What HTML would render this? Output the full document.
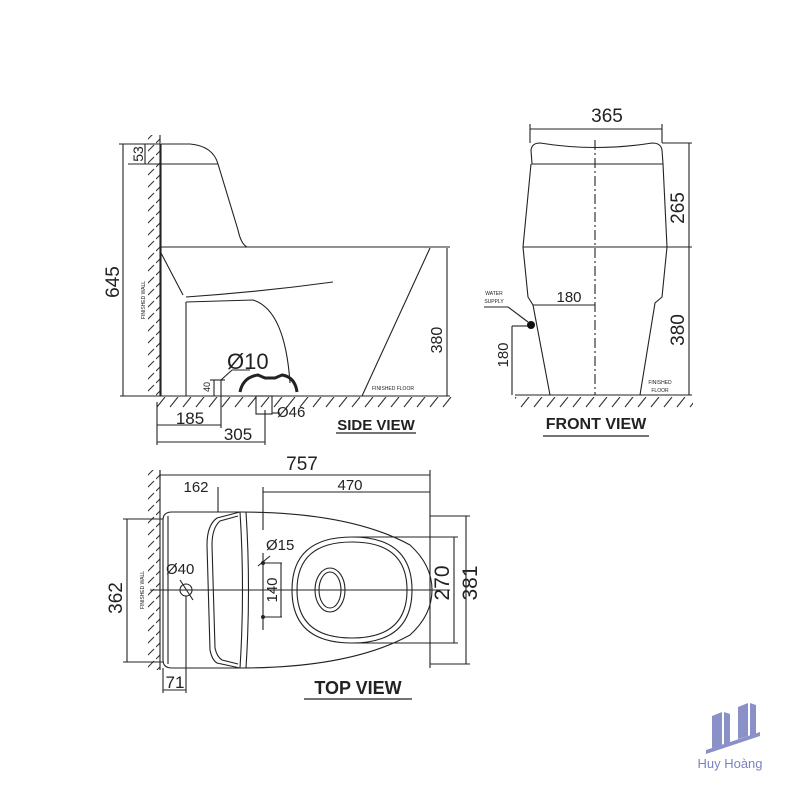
<!DOCTYPE html>
<html><head><meta charset="utf-8"><style>
html,body{margin:0;padding:0;background:#fff;}
svg{display:block;}
text{font-family:"Liberation Sans",Arial,sans-serif;fill:#222;}
</style></head><body>
<svg width="800" height="800" viewBox="0 0 800 800" xmlns="http://www.w3.org/2000/svg">
<defs>
<pattern id="hv" width="12" height="12" patternUnits="userSpaceOnUse"><line x1="0" y1="11" x2="10" y2="1" stroke="#333" stroke-width="1.1"/></pattern>
<pattern id="hh" width="13" height="12" patternUnits="userSpaceOnUse"><line x1="1" y1="11" x2="9" y2="1" stroke="#333" stroke-width="1.1"/></pattern>
</defs>
<rect width="800" height="800" fill="#fff"/>
<g fill="none" stroke="#222" stroke-width="1.1">
<!-- SIDE VIEW -->
<rect x="148" y="135" width="12" height="261" fill="url(#hv)" stroke="none"/>
<line x1="160" y1="135" x2="160" y2="396"/>
<rect x="155" y="397" width="300" height="11" fill="url(#hh)" stroke="none"/>
<line x1="120" y1="396" x2="450" y2="396"/>
<path d="M161 144 L190 144 Q213 146 218 164 L238 230 Q241 244 247 247"/>
<line x1="161" y1="164" x2="218" y2="164"/>
<line x1="161" y1="144" x2="161" y2="396"/>
<line x1="161" y1="247" x2="450" y2="247"/>
<path d="M161 253 L183 295"/>
<path d="M186 297 Q260 292 333 282"/>
<path d="M186 302 L186 396"/>
<path d="M186 302 L253 300 Q285 310 290 383"/>
<path d="M430 248 L362 396"/>
<path d="M240 392 Q243 377 258 375 L265 378 L275 378 L282 375 Q295 377 297 392" stroke-width="3"/>
<rect x="256" y="396" width="16" height="18"/>
<!-- dims side -->
<line x1="123" y1="144" x2="123" y2="396"/>
<line x1="119" y1="144" x2="160" y2="144"/>
<line x1="128" y1="164" x2="160" y2="164"/>
<line x1="145" y1="144" x2="145" y2="164"/>
<line x1="157" y1="402" x2="157" y2="445"/>
<line x1="157" y1="425" x2="221" y2="425"/>
<line x1="221" y1="380" x2="221" y2="428"/>
<line x1="157" y1="442" x2="265" y2="442"/>
<line x1="265" y1="410" x2="265" y2="445"/>
<line x1="210" y1="380" x2="225" y2="380"/>
<line x1="214" y1="380" x2="214" y2="396"/>
<line x1="221" y1="380" x2="232" y2="370"/><line x1="232" y1="370" x2="250" y2="370"/>
<line x1="272" y1="413" x2="280" y2="413"/>
<line x1="447" y1="248" x2="447" y2="396"/>
<!-- FRONT VIEW -->
<rect x="515" y="397" width="178" height="11" fill="url(#hh)" stroke="none"/>
<line x1="515" y1="395" x2="692" y2="395"/>
<path d="M532 164 L531 150 Q532 143 540 143 Q596 152 652 143 Q661 143 662 150 L663 164 Z"/>
<path d="M531 164 L523 247 L528 297 L533 305 L550 395"/>
<path d="M663 164 L667 247 L662 297 L655 303 L640 395"/>
<line x1="523" y1="247" x2="692" y2="247"/>
<line x1="595" y1="140" x2="595" y2="395" stroke-dasharray="10 3 2 3"/>
<line x1="530" y1="129" x2="662" y2="129"/>
<line x1="530" y1="124" x2="530" y2="143"/><line x1="662" y1="124" x2="662" y2="143"/>
<line x1="689" y1="143" x2="689" y2="395"/>
<line x1="662" y1="143" x2="692" y2="143"/>
<line x1="533" y1="305" x2="595" y2="305"/>
<line x1="512" y1="326" x2="528" y2="326"/>
<line x1="512" y1="326" x2="512" y2="395"/>
<line x1="484" y1="307" x2="508" y2="307"/><line x1="508" y1="307" x2="528" y2="322"/>
<!-- TOP VIEW -->
<rect x="148" y="470" width="12" height="200" fill="url(#hv)" stroke="none"/>
<line x1="160" y1="470" x2="160" y2="670"/>
<path d="M163 520 Q163 512 172 512 L240 512 Q350 512 410 545 Q432 565 432 590 Q432 615 410 635 Q350 668 240 668 L172 668 Q163 668 163 660 Z"/>
<line x1="168" y1="516" x2="168" y2="664"/>
<path d="M240 512 L217 518 Q207 525 207 545 L210 650 Q212 660 217 663 L240 668"/>
<path d="M238 516 L220 521 Q212 528 212 545 L215 648 Q217 657 222 660 L238 664"/>
<path d="M240 512 Q245 590 240 668"/><path d="M246 512 Q251 590 246 668"/>
<path d="M352 537 Q292 537 292 590 Q292 643 352 643 Q412 643 412 590 Q412 537 352 537 Z"/>
<path d="M352 542 Q297 542 297 590 Q297 638 352 638 Q407 638 407 590 Q407 542 352 542 Z"/>
<ellipse cx="330" cy="590" rx="15" ry="22"/>
<ellipse cx="330" cy="590" rx="11" ry="18"/>
<line x1="150" y1="590" x2="450" y2="590"/>
<circle cx="186" cy="590" r="6"/>
<line x1="180" y1="580" x2="193" y2="600"/>
<line x1="160" y1="475" x2="430" y2="475"/>
<line x1="160" y1="470" x2="160" y2="480"/><line x1="430" y1="470" x2="430" y2="668"/>
<line x1="263" y1="492" x2="430" y2="492"/>
<line x1="263" y1="487" x2="263" y2="530"/>
<line x1="218" y1="487" x2="218" y2="512"/>
<line x1="127" y1="519" x2="127" y2="662"/>
<line x1="123" y1="519" x2="163" y2="519"/><line x1="123" y1="662" x2="163" y2="662"/>
<line x1="352" y1="537" x2="458" y2="537"/><line x1="352" y1="643" x2="458" y2="643"/>
<line x1="454" y1="537" x2="454" y2="643"/>
<line x1="430" y1="516" x2="470" y2="516"/><line x1="430" y1="664" x2="470" y2="664"/>
<line x1="466" y1="516" x2="466" y2="664"/>
<line x1="262" y1="563" x2="282" y2="563"/><line x1="262" y1="617" x2="282" y2="617"/>
<line x1="281" y1="563" x2="281" y2="617"/>
<line x1="263" y1="553" x2="263" y2="630"/>
<line x1="258" y1="566" x2="270" y2="556"/>
<line x1="163" y1="668" x2="163" y2="693"/><line x1="186" y1="596" x2="186" y2="693"/>
<line x1="163" y1="690" x2="186" y2="690"/>
</g>
<circle cx="531" cy="325" r="4" fill="#111"/>
<circle cx="263" cy="563" r="2" fill="#222"/><circle cx="263" cy="617" r="2" fill="#222"/>
<!-- texts side -->
<text x="119" y="282" font-size="19" text-anchor="middle" transform="rotate(-90 119 282)">645</text>
<text x="143" y="154" font-size="14" text-anchor="middle" transform="rotate(-90 143 154)">53</text>
<text x="145" y="300" font-size="5" text-anchor="middle" transform="rotate(-90 145 300)">FINISHED WALL</text>
<text x="442" y="340" font-size="16" text-anchor="middle" transform="rotate(-90 442 340)">380</text>
<text x="372" y="390" font-size="5">FINISHED FLOOR</text>
<text x="227" y="369" font-size="22">Ø10</text>
<text x="210" y="387" font-size="9" text-anchor="middle" transform="rotate(-90 210 387)">40</text>
<text x="277" y="417" font-size="15">Ø46</text>
<text x="190" y="424" font-size="17" text-anchor="middle">185</text>
<text x="238" y="440" font-size="17" text-anchor="middle">305</text>
<text x="376" y="430" font-size="15" font-weight="bold" text-anchor="middle">SIDE VIEW</text>
<line x1="336" y1="433" x2="416" y2="433" stroke="#222" stroke-width="1.3"/>
<!-- front -->
<text x="607" y="122" font-size="19" text-anchor="middle">365</text>
<text x="684" y="208" font-size="19" text-anchor="middle" transform="rotate(-90 684 208)">265</text>
<text x="684" y="330" font-size="19" text-anchor="middle" transform="rotate(-90 684 330)">380</text>
<text x="569" y="302" font-size="15" text-anchor="middle">180</text>
<text x="508" y="355" font-size="15" text-anchor="middle" transform="rotate(-90 508 355)">180</text>
<text x="494" y="295" font-size="5" text-anchor="middle">WATER</text>
<text x="494" y="303" font-size="5" text-anchor="middle">SUPPLY</text>
<text x="660" y="384" font-size="5" text-anchor="middle">FINISHED</text>
<text x="660" y="392" font-size="5" text-anchor="middle">FLOOR</text>
<text x="596" y="429" font-size="16" font-weight="bold" text-anchor="middle">FRONT VIEW</text>
<line x1="543" y1="436" x2="649" y2="436" stroke="#222" stroke-width="1.3"/>
<!-- top -->
<text x="302" y="470" font-size="19" text-anchor="middle">757</text>
<text x="196" y="492" font-size="15" text-anchor="middle">162</text>
<text x="350" y="490" font-size="15" text-anchor="middle">470</text>
<text x="122" y="598" font-size="19" text-anchor="middle" transform="rotate(-90 122 598)">362</text>
<text x="144" y="590" font-size="5" text-anchor="middle" transform="rotate(-90 144 590)">FINISHED WALL</text>
<text x="166" y="574" font-size="15">Ø40</text>
<text x="266" y="550" font-size="15">Ø15</text>
<text x="277" y="590" font-size="15" text-anchor="middle" transform="rotate(-90 277 590)">140</text>
<text x="449" y="583" font-size="21" text-anchor="middle" transform="rotate(-90 449 583)">270</text>
<text x="477" y="583" font-size="21" text-anchor="middle" transform="rotate(-90 477 583)">381</text>
<text x="175" y="688" font-size="17" text-anchor="middle">71</text>
<text x="358" y="694" font-size="18" font-weight="bold" text-anchor="middle">TOP VIEW</text>
<line x1="304" y1="699" x2="412" y2="699" stroke="#222" stroke-width="1.3"/>
<!-- logo -->
<g fill="#8a90c8">
<polygon points="712,716 722,712 722,745 712,748"/>
<polygon points="724,712 730,714 730,742 724,745"/>
<polygon points="738,707 748,703 748,736 738,739"/>
<polygon points="750,703 756,705 756,734 750,737"/>
<polygon points="706,750 760,732 760,736 706,754"/>
</g>
<text x="730" y="768" font-size="13" text-anchor="middle" style="fill:#7c82c0">Huy Hoàng</text>
</svg>
</body></html>
